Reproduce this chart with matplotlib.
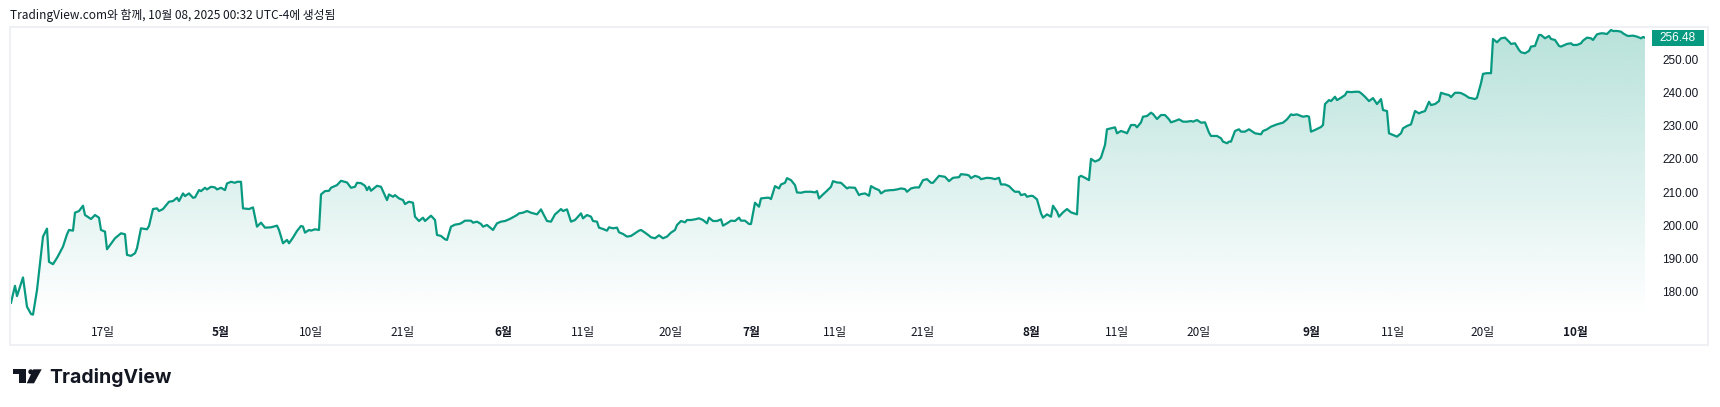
import numpy as np
import matplotlib.pyplot as plt
from matplotlib.colors import to_rgb
from matplotlib.patches import Rectangle, Polygon, Ellipse
from matplotlib.transforms import blended_transform_factory

W, H = 1720, 407
GREEN = '#089981'
TEXT = '#131722'
KR = ['Noto Sans CJK KR', 'DejaVu Sans']

# 시간축(봉 번호)과 종가
bar = [
    0, 2, 3, 6, 8, 10, 11, 13, 16, 18, 19, 21,
    23, 24, 26, 28, 29, 31, 32, 34, 36, 37, 40, 42,
    44, 45, 47, 48, 52, 55, 57, 58, 60, 62, 63, 65,
    68, 69, 71, 73, 74, 76, 79, 81, 83, 84, 86, 87,
    89, 91, 92, 94, 95, 97, 98, 100, 102, 103, 105, 107,
    108, 110, 112, 113, 115, 116, 119, 121, 123, 125, 127, 130,
    133, 134, 136, 138, 139, 141, 143, 145, 146, 147, 149, 150,
    152, 154, 155, 157, 159, 160, 163, 165, 168, 170, 172, 173,
    175, 177, 178, 179, 180, 183, 185, 188, 189, 191, 192, 194,
    196, 197, 199, 201, 202, 204, 206, 207, 210, 212, 213, 215,
    217, 218, 220, 222, 224, 225, 227, 230, 231, 233, 235, 236,
    238, 239, 241, 243, 245, 247, 249, 250, 253, 254, 256, 258,
    260, 263, 265, 266, 268, 270, 272, 273, 275, 276, 278, 280,
    282, 285, 286, 288, 290, 291, 293, 294, 296, 298, 299, 301,
    303, 304, 306, 308, 310, 312, 314, 315, 317, 319, 320, 322,
    324, 326, 328, 330, 332, 333, 335, 337, 338, 340, 342, 344,
    346, 348, 349, 351, 353, 355, 356, 358, 360, 362, 364, 365,
    367, 369, 370, 372, 374, 375, 378, 379, 380, 382, 384, 385,
    387, 388, 390, 392, 393, 395, 397, 400, 402, 403, 404, 406,
    408, 410, 411, 413, 415, 418, 419, 422, 424, 425, 427, 429,
    430, 432, 434, 435, 437, 440, 441, 443, 445, 447, 448, 450,
    452, 454, 456, 458, 460, 461, 464, 467, 469, 471, 474, 475,
    478, 479, 480, 482, 484, 485, 488, 490, 492, 494, 495, 497,
    499, 501, 502, 504, 505, 507, 508, 510, 511, 513, 515, 516,
    518, 520, 521, 523, 524, 526, 528, 530, 533, 534, 535, 537,
    539, 540, 542, 544, 545, 547, 548, 550, 552, 553, 555, 557,
    558, 560, 562, 563, 565, 566, 568, 570, 571, 573, 575, 577,
    579, 580, 582, 584, 586, 588, 590, 591, 593, 595, 597, 599,
    600, 603, 605, 606, 608, 609, 610, 612, 614, 615, 617, 619,
    620, 622, 625, 626, 628, 630, 633, 636, 638, 640, 641, 643,
    645, 646, 648, 649, 650, 652, 655, 656, 657, 659, 660, 662,
    663, 665, 667, 668, 670, 672, 674, 675, 677, 679, 681, 683,
    685, 686, 688, 689, 691, 693, 695, 696, 698, 700, 702, 704,
    705, 707, 709, 710, 712, 714, 715, 717, 719, 720, 722, 724,
    725, 727, 729, 730, 732, 733, 735, 736, 738, 740, 741, 743,
    745, 747, 749, 750, 752, 754, 755, 757, 759, 760, 762, 764,
    765, 767, 769, 770, 772, 774, 775, 778, 780, 781, 783, 785,
    786, 788, 790, 791, 793, 795, 796, 798, 800, 801, 803, 805,
    806, 808, 809, 811, 813, 815, 816, 817,
]
price = [
    176.7, 181.8, 178.7, 184.3, 175.5, 173.3, 173.1, 180.5, 196.6, 199.0, 189.0, 188.3,
    190.2, 191.3, 193.6, 197.3, 198.6, 198.4, 203.8, 204.3, 205.9, 203.1, 201.9, 203.1,
    202.3, 198.6, 198.1, 192.8, 196.1, 197.6, 197.3, 191.1, 190.8, 191.6, 193.1, 199.1,
    198.8, 199.8, 204.9, 205.1, 204.3, 204.9, 207.1, 207.3, 208.3, 207.3, 209.6, 208.8,
    209.6, 208.3, 208.4, 210.6, 210.3, 211.3, 210.8, 211.6, 211.4, 210.8, 211.3, 210.6,
    212.6, 213.1, 212.8, 213.1, 213.1, 205.1, 204.9, 205.4, 199.6, 200.8, 199.3, 199.4,
    199.9, 198.6, 194.6, 195.6, 194.6, 196.3, 198.3, 199.8, 199.6, 197.8, 198.6, 198.4,
    198.8, 198.6, 209.3, 210.3, 210.4, 211.3, 212.1, 213.4, 212.9, 211.3, 211.6, 212.8,
    212.7, 211.9, 210.6, 211.6, 210.4, 211.9, 211.6, 207.6, 209.3, 208.6, 209.1, 208.1,
    207.6, 206.4, 207.1, 206.8, 202.6, 201.3, 202.3, 201.3, 202.9, 201.6, 197.1, 196.8,
    195.8, 195.6, 199.6, 200.2, 200.4, 200.6, 201.4, 201.4, 200.8, 201.1, 200.4, 199.6,
    200.1, 199.6, 198.6, 200.6, 201.1, 201.3, 201.8, 202.1, 203.1, 203.6, 203.8, 204.3,
    203.8, 203.3, 204.8, 203.6, 201.3, 201.1, 203.3, 203.8, 204.9, 204.3, 204.8, 201.1,
    201.6, 203.6, 202.1, 203.1, 202.6, 201.3, 201.1, 199.3, 198.9, 198.4, 199.4, 199.1,
    199.3, 197.9, 197.4, 196.6, 196.8, 197.6, 198.4, 198.6, 197.8, 196.9, 196.4, 196.1,
    197.0, 196.1, 196.6, 197.8, 198.6, 200.1, 201.3, 200.9, 201.6, 201.6, 201.8, 202.1,
    201.6, 200.6, 202.3, 201.3, 201.3, 201.8, 199.9, 200.6, 201.4, 201.3, 202.3, 201.4,
    201.4, 200.4, 200.4, 206.8, 205.6, 208.1, 208.3, 208.3, 207.9, 211.8, 211.1, 212.3,
    212.8, 214.2, 213.6, 212.1, 209.9, 209.8, 210.1, 210.1, 209.9, 210.3, 208.1, 209.3,
    210.4, 211.6, 213.3, 212.9, 212.8, 211.1, 211.4, 211.3, 209.1, 209.4, 209.6, 208.9,
    211.8, 211.1, 210.6, 209.6, 210.4, 210.6, 210.6, 210.8, 211.1, 210.9, 210.1, 211.1,
    211.4, 211.4, 213.6, 213.9, 212.8, 212.8, 214.9, 214.6, 213.3, 214.3, 214.5, 215.4,
    215.2, 215.0, 214.2, 214.9, 214.5, 213.9, 214.3, 214.2, 213.9, 214.3, 212.3, 212.3,
    211.8, 210.6, 210.1, 210.1, 209.1, 209.4, 208.6, 208.9, 208.8, 207.8, 203.6, 202.3,
    203.3, 202.6, 205.9, 204.1, 202.6, 203.9, 204.9, 203.9, 203.3, 214.5, 214.9, 214.3,
    213.6, 220.0, 219.2, 219.7, 220.4, 224.2, 228.9, 229.2, 229.5, 227.7, 228.4, 228.0,
    227.7, 230.2, 230.2, 229.5, 231.0, 232.7, 232.9, 233.9, 233.5, 232.0, 233.2, 233.2,
    231.9, 231.0, 231.4, 231.9, 231.2, 231.2, 231.4, 231.2, 231.7, 230.9, 231.0, 227.9,
    226.9, 226.9, 226.2, 225.2, 224.7, 225.2, 225.2, 228.4, 228.9, 228.2, 228.2, 228.9,
    228.5, 227.7, 227.4, 228.4, 228.9, 229.7, 230.4, 230.9, 231.9, 233.4, 233.2, 233.4,
    232.9, 232.7, 232.9, 232.7, 228.2, 228.7, 229.6, 230.2, 236.5, 237.7, 237.4, 238.7,
    237.7, 238.4, 239.2, 240.2, 240.1, 240.2, 240.2, 239.8, 238.7, 237.4, 238.3, 236.5,
    238.0, 234.7, 234.4, 227.7, 227.2, 226.7, 227.7, 229.2, 229.9, 230.4, 234.4, 233.7,
    234.0, 234.4, 237.2, 236.2, 236.5, 237.4, 239.9, 239.5, 239.2, 238.6, 239.9, 239.9,
    239.8, 239.2, 238.4, 238.3, 238.0, 238.4, 242.8, 245.6, 245.8, 245.8, 256.1, 255.1,
    256.3, 256.5, 255.3, 254.6, 254.8, 252.8, 252.1, 251.8, 252.5, 253.8, 254.0, 257.3,
    257.3, 256.3, 257.0, 256.1, 255.8, 254.0, 253.8, 254.6, 254.8, 254.3, 254.3, 254.8,
    255.6, 256.5, 256.3, 255.8, 257.5, 257.8, 257.8, 257.6, 258.8, 258.5, 258.5, 258.3,
    257.8, 257.1, 257.0, 257.1, 256.8, 256.3, 256.7, 256.48,
]
last_price = 256.48

price_ticks = [180, 190, 200, 210, 220, 230, 240, 250]
date_ticks = [46, 105, 150, 196, 246, 286, 330, 370, 412, 456, 510, 553, 594, 650, 691, 736, 782]
date_labels = ['17일', '5월', '10일', '21일', '6월', '11일', '20일', '7월', '11일',
               '21일', '8월', '11일', '20일', '9월', '11일', '20일', '10월']

title = 'TradingView.com와 함께, 10월 08, 2025 00:32 UTC-4에 생성됨'

ylo, yhi = 172.7, 259.7
xmax = bar[-1]

fig = plt.figure(figsize=(W / 100, H / 100), dpi=100)
fig.patch.set_facecolor('white')
ax = fig.add_axes([11 / W, 1 - 316 / H, 1634 / W, 289 / H])
ax.set_facecolor('none')

# 그라데이션 영역
grad = np.zeros((256, 1, 4))
grad[..., :3] = to_rgb(GREEN)
grad[:, 0, 3] = np.linspace(0.29, 0.0, 256)
poly = ax.fill_between(bar, price, ylo, facecolor='none', edgecolor='none')
im = ax.imshow(grad, extent=[0, xmax, ylo, yhi], aspect='auto', origin='upper',
               interpolation='bilinear', zorder=1)
im.set_clip_path(poly.get_paths()[0], transform=ax.transData)

ax.plot(bar, price, color=GREEN, lw=1.6, solid_joinstyle='round', zorder=3)

ax.set_xlim(0, xmax)
ax.set_ylim(ylo, yhi)
for s in ax.spines.values():
    s.set_visible(False)

# 가격축
ax.yaxis.tick_right()
ax.set_yticks(price_ticks)
ax.set_yticklabels([f'{v:.2f}' for v in price_ticks], fontfamily='Liberation Sans')
ax.tick_params(axis='y', length=0, pad=12.2, labelsize=8.5, labelcolor=TEXT)

# 시간축
ax.set_xticks(date_ticks)
ax.set_xticklabels(date_labels, fontfamily=KR)
ax.tick_params(axis='x', length=0, pad=7, labelsize=8.5, labelcolor=TEXT)
for lab in ax.get_xticklabels():
    if lab.get_text().endswith('월'):
        lab.set_fontweight('bold')

# 마지막 가격 라벨
trans = blended_transform_factory(ax.transAxes, ax.transData)
ax.add_patch(Rectangle((1 + 7 / 1634, last_price - 8 / 3.32), 52 / 1634, 16 / 3.32,
                       transform=trans, fc=GREEN, ec='none', clip_on=False, zorder=5))
ax.text(1 + 33 / 1634, last_price, f'{last_price:.2f}', transform=trans, ha='center',
        va='center', color='white', fontsize=8.5, fontfamily='Liberation Sans', zorder=6)

# 테두리
fig.add_artist(Rectangle((10 / W, 1 - 345 / H), 1698 / W, 318 / H, transform=fig.transFigure,
                         fill=False, ec='#eceef1', lw=1.2))

fig.text(10 / W, 1 - 15 / H, title, fontsize=8.55, fontfamily=KR, color=TEXT, va='center')


def px(x, y):
    return (x / W, 1 - y / H)


# 로고
fig.add_artist(Polygon([px(12.7, 369.3), px(26, 369.3), px(26, 383.3), px(19.3, 383.3),
                        px(19.3, 374.3), px(12.7, 374.3)], closed=True,
                       transform=fig.transFigure, fc=TEXT, ec='none'))
fig.add_artist(Ellipse(px(30.8, 371.8), 5 / W, 5 / H, transform=fig.transFigure,
                       fc=TEXT, ec='none'))
fig.add_artist(Polygon([px(33.3, 369.3), px(41.7, 369.3), px(34, 383.3), px(26.7, 383.3)],
                       closed=True, transform=fig.transFigure, fc=TEXT, ec='none'))
fig.text(49.3 / W, 1 - 383.3 / H, 'TradingView', fontsize=14, fontweight='bold',
         fontfamily=['Inter', 'DejaVu Sans'], va='baseline', color=TEXT)

plt.savefig('out.png', dpi=100)
